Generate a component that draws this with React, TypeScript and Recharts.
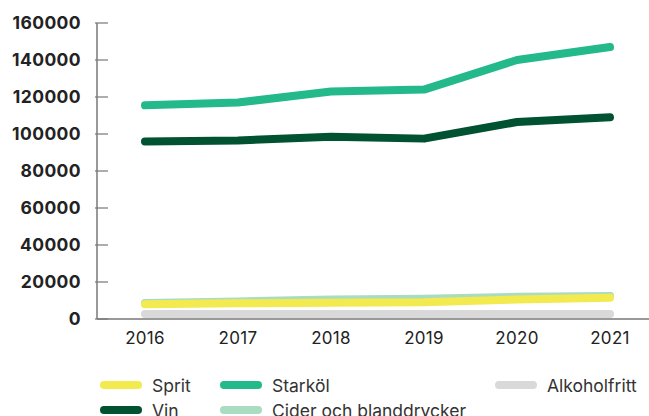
import React from 'react';
import { LineChart, Line, XAxis, YAxis } from 'recharts';

const years = ['2016', '2017', '2018', '2019', '2020', '2021'];
const sprit = [8000, 8500, 8800, 9000, 10500, 11500];
const vin = [96000, 96500, 98500, 97500, 106500, 109000];
const starkol = [115500, 117000, 123000, 124000, 140000, 147000];
const cider = [8600, 9500, 10500, 11000, 12000, 12500];
const alkoholfritt = [2700, 2700, 2700, 2700, 2700, 2700];
const yTicks = [0, 20000, 40000, 60000, 80000, 100000, 120000, 140000, 160000];

const series = [
  { key: 'alkoholfritt', name: 'Alkoholfritt', color: '#d9d9d9' },
  { key: 'cider', name: 'Cider och blanddrycker', color: '#a9dcc1' },
  { key: 'sprit', name: 'Sprit', color: '#f3ea4f' },
  { key: 'vin', name: 'Vin', color: '#005231' },
  { key: 'starkol', name: 'Starköl', color: '#24b98a' },
];

const data = years.map((year, i) => ({
  year,
  sprit: sprit[i],
  vin: vin[i],
  starkol: starkol[i],
  cider: cider[i],
  alkoholfritt: alkoholfritt[i],
}));

const font = 'Inter, "Open Sans", sans-serif';

const YTick = (props: any) => {
  const { x, y, payload } = props;
  // x sits tickSize (6) left of the axis line
  return (
    <g>
      <line x1={x + 6} y1={y} x2={x + 19} y2={y} stroke="#777" strokeWidth={1.2} />
      <text x={x - 8} y={y} dy="0.35em" textAnchor="end" fontSize={17.5} fontWeight={700} letterSpacing={0.4} fill="#222" fontFamily={font}>
        {payload.value}
      </text>
    </g>
  );
};

// legend layout: [series key, left, top]
const legendSlots: [string, number, number][] = [
  ['sprit', 100, 376],
  ['starkol', 220, 376],
  ['alkoholfritt', 495, 376],
  ['vin', 100, 401],
  ['cider', 220, 401],
];

export default function App() {
  return (
    <div style={{ position: 'absolute', left: 0, top: 0, width: 649, height: 416, overflow: 'hidden', background: '#fff', fontFamily: font }}>
      <LineChart width={649} height={360} data={data} margin={{ top: 23, right: 0, bottom: 0, left: 0 }}>
        <XAxis
          dataKey="year"
          padding={{ left: 48, right: 39 }}
          tickLine={false}
          axisLine={{ stroke: '#777', strokeWidth: 1.5 }}
          height={41}
          tickMargin={7}
          tick={{ fontSize: 17, fill: '#222', fontFamily: font, letterSpacing: 0.3 }}
        />
        <YAxis
          width={97}
          domain={[0, 160000]}
          ticks={yTicks}
          interval={0}
          tickLine={false}
          axisLine={{ stroke: '#777', strokeWidth: 1.5 }}
          tick={<YTick />}
        />
        {series.map((s) => (
          <Line
            key={s.key}
            dataKey={s.key}
            name={s.name}
            stroke={s.color}
            strokeWidth={8}
            strokeLinecap="round"
            strokeLinejoin="round"
            dot={false}
            activeDot={false}
            isAnimationActive={false}
          />
        ))}
      </LineChart>
      {legendSlots.map(([key, left, top]) => {
        const s = series.find((item) => item.key === key)!;
        return (
          <div key={key} style={{ position: 'absolute', left, top, display: 'flex', alignItems: 'center', height: 18, whiteSpace: 'nowrap' }}>
            <div style={{ width: 42, height: 8, borderRadius: 4, background: s.color, marginRight: 10 }} />
            <span style={{ fontSize: 17.5, color: '#333' }}>{s.name}</span>
          </div>
        );
      })}
    </div>
  );
}
